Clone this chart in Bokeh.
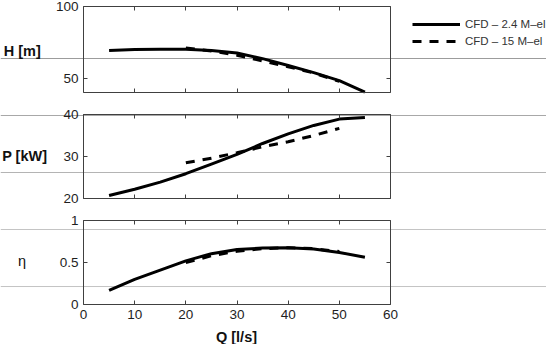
from bokeh.plotting import figure
from bokeh.layouts import column
from bokeh.models import (Range1d, LinearAxis, FixedTicker, Label, Span,
                          Legend, LegendItem)
from bokeh.embed import file_html
from bokeh.resources import INLINE

# Flow rate Q [l/s] for the two CFD meshes
q_coarse = [5, 10, 15, 20, 25, 30, 35, 40, 45, 50, 55]
q_fine = [20, 25, 30, 35, 40, 45, 50]

# Head H [m]
h_coarse = [69.3, 70.0, 70.2, 70.2, 69.3, 67.6, 63.6, 58.8, 53.9, 48.3, 40.3]
h_fine = [71.0, 69.0, 66.0, 62.0, 58.0, 53.6, 47.8]

# Shaft power P [kW]
p_coarse = [20.7, 22.2, 23.9, 25.9, 28.2, 30.5, 33.1, 35.4, 37.4, 38.9, 39.3]
p_fine = [28.5, 29.6, 30.9, 32.3, 33.5, 35.0, 36.7]

# Efficiency eta [-]
eta_coarse = [0.167, 0.30, 0.41, 0.52, 0.605, 0.655, 0.672, 0.675, 0.66, 0.62, 0.563]
eta_fine = [0.50, 0.58, 0.635, 0.665, 0.675, 0.665, 0.63]

x_ticks = [0, 10, 20, 30, 40, 50, 60]
h_ticks = [50, 100]
p_ticks = [20, 30, 40]
eta_ticks = [0, 0.5, 1]

series_labels = ["CFD \u2013 2.4 M\u2013el", "CFD \u2013 15 M\u2013el"]

FONT = "Liberation Sans"
BOX = "#404040"
W = 546
# horizontal pixel placement of the axes box inside the page
BOX_LEFT, BOX_RIGHT = 83, 390
X0, X1 = 0, 60
PX_PER_Q = (BOX_RIGHT - BOX_LEFT) / (X1 - X0)
X_RANGE = (X0 - BOX_LEFT / PX_PER_Q, X1 + (W - BOX_RIGHT) / PX_PER_Q)


def make_axis(ticks, bounds, where, labelled, overrides=None):
    ax = LinearAxis(ticker=FixedTicker(ticks=ticks), bounds=bounds, fixed_location=where)
    ax.major_tick_in = 4
    ax.major_tick_out = 0
    ax.minor_tick_line_color = None
    ax.axis_line_color = BOX
    ax.major_tick_line_color = BOX
    ax.major_label_text_font = FONT
    ax.major_label_text_color = "#1e1e1e"
    ax.major_label_text_font_size = "13.5px"
    ax.major_label_standoff = 5
    if not labelled:
        ax.major_label_overrides = {t: "" for t in ticks}
    elif overrides:
        ax.major_label_overrides = overrides
    return ax


def panel(height, top, bottom, y0, y1, yticks, x_labels=False, overrides=None):
    # the frame fills the whole figure; the axes box sits at fixed data positions
    ppu = (height - top - bottom) / (y1 - y0)
    p = figure(width=W, height=height,
               x_range=Range1d(*X_RANGE),
               y_range=Range1d(y0 - bottom / ppu, y1 + top / ppu),
               output_backend="svg", toolbar_location=None,
               x_axis_location=None, y_axis_location=None,
               min_border=0)
    p.grid.grid_line_color = None
    p.outline_line_color = None
    p.background_fill_color = "white"
    p.border_fill_color = "white"
    p.add_layout(make_axis(yticks, (y0, y1), X0, True, overrides), "left")
    p.add_layout(make_axis(yticks, (y0, y1), X1, False), "right")
    p.add_layout(make_axis(x_ticks, (X0, X1), y1, False), "above")
    p.add_layout(make_axis(x_ticks, (X0, X1), y0, x_labels), "below")
    return p


def rule(p, y, color):
    # thin grey rule running across the whole page width
    p.add_layout(Span(location=y, dimension="width", line_color=color, line_width=1,
                      level="underlay"))


def side_label(p, text, x, y, bold=True):
    p.add_layout(Label(x=x, y=y, text=text, text_font=FONT, text_font_size="14.5px",
                       text_font_style="bold" if bold else "normal",
                       text_color="#111111", text_baseline="middle", text_align="left"))


# --- Head ---
p1 = panel(103, 6, 11, 40, 100, h_ticks)
rule(p1, 63.72, "#9c9c9c")
h_solid = p1.line(q_coarse, h_coarse, line_color="black", line_width=3)
h_dash = p1.line(q_fine, h_fine, line_color="black", line_width=3, line_dash="9 8")
side_label(p1, "H [m]", -15.6, 69.3)
legend = Legend(items=[LegendItem(label=series_labels[0], renderers=[h_solid]),
                       LegendItem(label=series_labels[1], renderers=[h_dash])],
                location=(412, 55), border_line_color=None, background_fill_alpha=0,
                padding=0, margin=0, spacing=3, glyph_width=48, glyph_height=14,
                label_height=14, label_standoff=5, label_text_font=FONT,
                label_text_font_size="11.5px", label_text_color="#333333")
p1.add_layout(legend)

# --- Power ---
p2 = panel(106, 11, 11, 20, 40, p_ticks)
rule(p2, 39.76, "#a8a8a8")
rule(p2, 26.19, "#b4b4b4")
p2.line(q_coarse, p_coarse, line_color="black", line_width=3)
p2.line(q_fine, p_fine, line_color="black", line_width=3, line_dash="9 8")
side_label(p2, "P [kW]", -15.9, 30.2)

# --- Efficiency ---
p3 = panel(135, 11, 40, 0, 1, eta_ticks, x_labels=True,
           overrides={0: "0", 0.5: "0.5", 1: "1"})
rule(p3, 0.893, "#c4c4c4")
rule(p3, 0.214, "#c4c4c4")
p3.line(q_coarse, eta_coarse, line_color="black", line_width=3)
p3.line(q_fine, eta_fine, line_color="black", line_width=3, line_dash="9 8")
side_label(p3, "\u03b7", -12.8, 0.512, bold=False)
p3.add_layout(Label(x=29.9, y=-0.381, text="Q [l/s]", text_font=FONT,
                    text_font_size="14.5px", text_font_style="bold", text_color="#111111",
                    text_baseline="middle", text_align="center"))

layout = column(p1, p2, p3, spacing=0)
open("out.html", "w").write(file_html(layout, INLINE))
